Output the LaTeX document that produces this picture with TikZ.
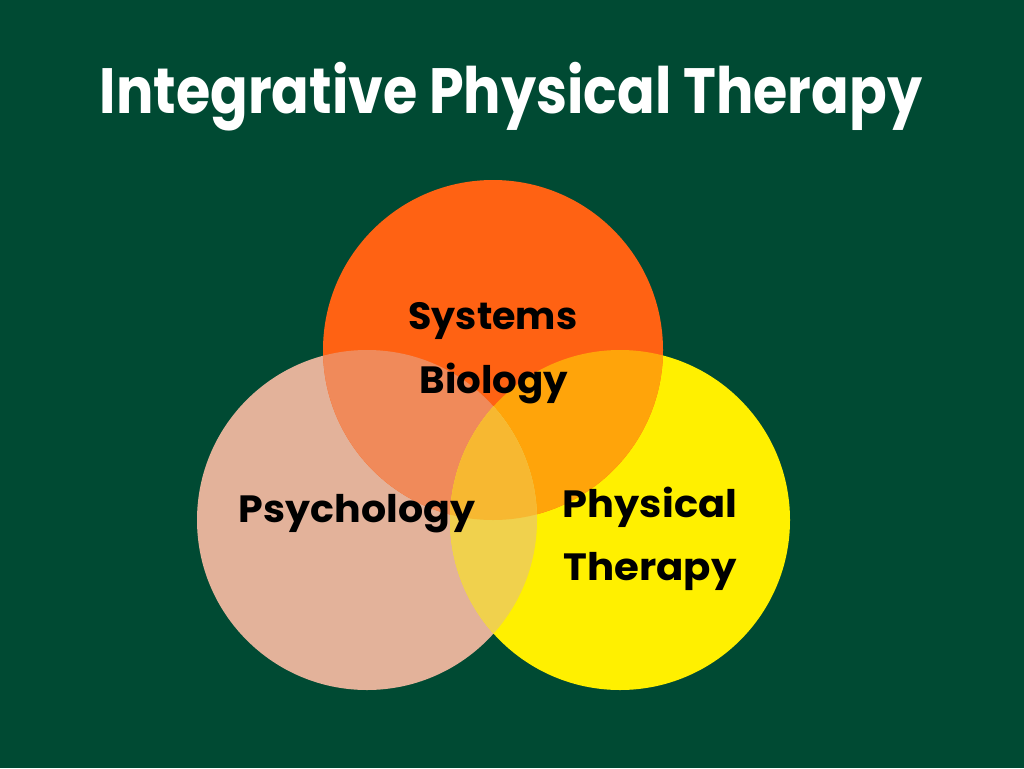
\documentclass[tikz,border=0pt]{standalone}
\usepackage{fontspec}
\setmainfont{Poppins}
\definecolor{bg}{HTML}{004A33}
\definecolor{cbio}{HTML}{FF6213}
\definecolor{cpsy}{HTML}{E3B29A}
\definecolor{cpt}{HTML}{FFF000}
\definecolor{cbp}{HTML}{F08A5A}
\definecolor{cby}{HTML}{FFA40A}
\definecolor{cpy}{HTML}{F0D14D}
\definecolor{call}{HTML}{F7B831}
\begin{document}
\begin{tikzpicture}[x=1pt,y=-1pt,
  venn/.style={circle,minimum size=340pt,inner sep=0pt,outer sep=0pt},
  lbl/.style={font=\fontsize{38}{64}\selectfont\bfseries,text=black,align=center,inner sep=0pt},
  ttl/.style={font=\fontsize{64}{64}\selectfont\bfseries,text=white,inner sep=0pt}]
\useasboundingbox (0,0) rectangle (1024,768);
\fill[bg] (0,0) rectangle (1024,768);
\node[venn,fill=cpsy] (psy) at (367,520) {};
\node[venn,fill=cpt] (pt) at (620,520) {};
\node[venn,fill=cbio] (bio) at (493,350) {};
\begin{scope}
  \clip (bio.center) circle[radius=170pt];
  \fill[cbp] (psy.center) circle[radius=170pt];
  \fill[cby] (pt.center) circle[radius=170pt];
  \clip (psy.center) circle[radius=170pt];
  \fill[call] (pt.center) circle[radius=170pt];
\end{scope}
\begin{scope}
  \clip (psy.center) circle[radius=170pt];
  \clip (pt.center) circle[radius=170pt];
  \fill[cpy] (pt.center) circle[radius=170pt];
  \fill[call] (bio.center) circle[radius=170pt];
\end{scope}
\node[ttl,anchor=base] (title) at (511,113) {\scalebox{0.868}[1]{Integrative Physical Therapy}};
\node[lbl,anchor=base] (sys) at (493,329) {Systems};
\node[lbl,anchor=base] (biol) at (494,393) {\scalebox{1.02}[1]{Biology}};
\node[lbl,anchor=base] (psyl) at (357,522) {\scalebox{1.04}[1]{Psychology}};
\node[lbl,anchor=base] (phys) at (650,517) {\scalebox{1.05}[1]{Physical}};
\node[lbl,anchor=base] (ther) at (650,580) {\scalebox{1.06}[1]{Therapy}};
\end{tikzpicture}
\end{document}
